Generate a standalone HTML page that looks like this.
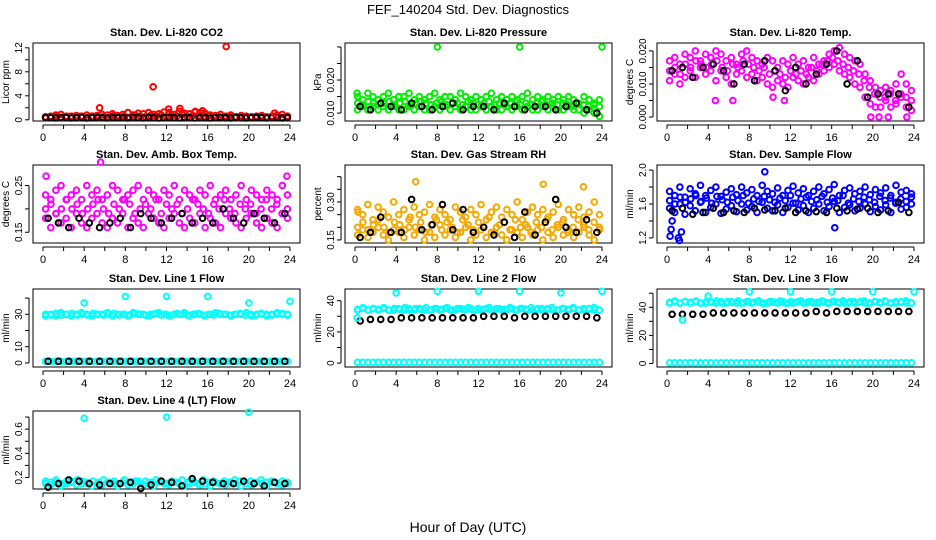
<!DOCTYPE html>
<html><head><meta charset="utf-8">
<style>
body{margin:0;background:#fff;}
svg{display:block;font-family:"Liberation Sans",sans-serif;}
</style></head>
<body>
<svg id="c" width="936" height="540">
<text x="468" y="14" text-anchor="middle" font-size="13">FEF_140204  Std. Dev. Diagnostics</text>
<text x="468" y="532" text-anchor="middle" font-size="14">Hour of Day (UTC)</text>
</svg>
<script>
// ---- data (std. dev. values) ----
const co2Red=[0.5,0.6,0.8,0.9,0.5,0.6,0.7,0.6,0.8,0.6,0.7,0.9,0.8,1.0,0.7,0.9,1.2,0.8,1.1,1.0,1.2,0.9,1.0,1.3,1.2,0.9,1.4,1.1,1.0,1.3,1.2,1.1,0.8,0.7,0.9,0.6,0.8,0.5,0.7,0.6,0.5,0.6,0.7,0.5,0.6,0.8,0.9,0.6];
const co2Mid=[0.3,0.4,0.5,0.3,0.6,0.4,0.3,0.5,0.4,0.6,0.3,0.5,0.4,0.7,0.5,0.6,0.4,0.8,0.6,0.5,0.7,0.6,0.8,0.5,0.7,0.6,0.9,0.5,0.7,0.6,0.5,0.7,0.4,0.5,0.3,0.6,0.4,0.3,0.5,0.4,0.3,0.5,0.4,0.3,0.5,0.4,0.3];
const co2Black=[0.4,0.35,0.3,0.4,0.35,0.3,0.35,0.4,0.3,0.35,0.4,0.35,0.3,0.4,0.35,0.35,0.3,0.4,0.35,0.3,0.4,0.35,0.3,0.35,0.4,0.35,0.3,0.4,0.35,0.3,0.35,0.4,0.3,0.35,0.4,0.35,0.3,0.4,0.35,0.3,0.35,0.4,0.35,0.3,0.4,0.35,0.3,0.4];
const co2OutHours=[5.5,10.7,17.8,12.2,13.3,14.8,15.5,22.5];
const co2OutVals=[2.0,5.5,12.2,1.8,1.9,1.4,1.5,1.1];

const presHi=[0.015,0.014,0.016,0.015,0.014,0.015,0.016,0.014,0.015,0.015,0.016,0.014,0.015,0.014,0.015,0.016,0.014,0.015,0.015,0.014,0.016,0.015,0.014,0.015,0.014,0.015,0.016,0.014,0.015,0.014,0.015,0.014,0.015,0.016,0.014,0.015,0.014,0.015,0.014,0.015,0.014,0.015,0.014,0.013,0.015,0.014,0.013,0.014];
const presMid=[0.013,0.0125,0.0135,0.013,0.0125,0.013,0.0135,0.0125,0.013,0.0135,0.0125,0.013,0.0135,0.013,0.0125,0.013,0.0135,0.0125,0.013,0.013,0.0125,0.0135,0.013,0.0125,0.013,0.0135,0.0125,0.013,0.0125,0.013,0.0135,0.0125,0.013,0.0125,0.013,0.0135,0.0125,0.013,0.0125,0.013,0.0125,0.012,0.013,0.0125,0.012,0.0125,0.012];
const presLo=[0.011,0.012,0.011,0.012,0.011,0.012,0.011,0.012,0.011,0.011,0.012,0.011,0.012,0.011,0.011,0.012,0.011,0.012,0.011,0.012,0.011,0.012,0.011,0.011,0.012,0.011,0.012,0.011,0.011,0.012,0.011,0.012,0.011,0.012,0.011,0.011,0.012,0.011,0.012,0.011,0.011,0.012,0.011,0.011,0.010,0.011,0.010,0.009];
const presBlack=[0.012,0.011,0.013,0.012,0.011,0.013,0.012,0.011,0.012,0.013,0.011,0.012,0.012,0.011,0.013,0.012,0.011,0.012,0.012,0.011,0.012,0.013,0.011,0.010];
const presOutHours=[0.2,8,16,24];
const presOutVals=[0.016,0.030,0.030,0.030];

const tempHi=[0.017,0.018,0.016,0.019,0.018,0.020,0.017,0.019,0.018,0.020,0.019,0.017,0.018,0.016,0.019,0.020,0.018,0.017,0.016,0.018,0.017,0.015,0.017,0.016,0.018,0.016,0.017,0.015,0.018,0.016,0.017,0.019,0.020,0.021,0.019,0.018,0.017,0.016,0.013,0.011,0.009,0.008,0.009,0.008,0.010,0.013,0.010,0.008];
const tempMid=[0.014,0.015,0.013,0.016,0.015,0.017,0.016,0.015,0.016,0.017,0.015,0.014,0.016,0.015,0.017,0.016,0.015,0.014,0.015,0.013,0.014,0.013,0.012,0.014,0.013,0.014,0.013,0.015,0.014,0.016,0.017,0.018,0.017,0.016,0.015,0.014,0.013,0.011,0.009,0.007,0.006,0.006,0.007,0.005,0.007,0.006,0.005];
const tempLo=[0.011,0.013,0.010,0.012,0.014,0.012,0.015,0.013,0.014,0.011,0.014,0.012,0.010,0.013,0.014,0.012,0.013,0.011,0.012,0.010,0.009,0.011,0.010,0.009,0.012,0.011,0.010,0.012,0.011,0.013,0.014,0.015,0.016,0.014,0.013,0.012,0.010,0.009,0.006,0.004,0.003,0.003,0.005,0.003,0.004,0.006,0.003,0.002];
const tempBlack=[0.014,0.015,0.012,0.015,0.016,0.014,0.010,0.016,0.011,0.017,0.014,0.008,0.015,0.010,0.013,0.016,0.020,0.010,0.017,0.006,0.007,0.007,0.007,0.003];
const tempOutHours=[4.7,6.4,10.3,11.4,19.8,20.6,21.5,23.3];
const tempOutVals=[0.005,0.005,0.006,0.005,0,0,0,0];

const ambHi=[0.23,0.22,0.24,0.25,0.22,0.23,0.24,0.22,0.25,0.23,0.24,0.22,0.23,0.25,0.24,0.22,0.23,0.24,0.25,0.22,0.24,0.23,0.22,0.24,0.23,0.25,0.22,0.24,0.23,0.22,0.24,0.23,0.25,0.22,0.23,0.24,0.22,0.23,0.25,0.22,0.24,0.23,0.22,0.24,0.23,0.22,0.25,0.23];
const ambMid=[0.20,0.21,0.19,0.20,0.22,0.20,0.21,0.19,0.20,0.21,0.22,0.20,0.19,0.21,0.20,0.22,0.21,0.19,0.20,0.21,0.20,0.22,0.19,0.21,0.20,0.21,0.19,0.20,0.22,0.21,0.20,0.19,0.21,0.20,0.22,0.20,0.19,0.21,0.20,0.21,0.19,0.20,0.22,0.20,0.21,0.19,0.20];
const ambLo=[0.18,0.16,0.19,0.17,0.18,0.16,0.19,0.17,0.16,0.18,0.19,0.17,0.16,0.18,0.17,0.19,0.16,0.18,0.17,0.16,0.19,0.18,0.17,0.16,0.18,0.19,0.17,0.16,0.18,0.17,0.19,0.16,0.18,0.17,0.16,0.19,0.18,0.17,0.16,0.18,0.19,0.17,0.16,0.18,0.17,0.16,0.19,0.18];
const ambBlack=[0.18,0.17,0.16,0.18,0.17,0.16,0.17,0.18,0.16,0.19,0.18,0.17,0.18,0.19,0.17,0.18,0.17,0.20,0.18,0.17,0.19,0.18,0.17,0.19];
const ambOutHours=[5.6,0.3,23.7];
const ambOutVals=[0.30,0.27,0.27];

const rhHi=[0.27,0.25,0.29,0.23,0.28,0.26,0.24,0.30,0.25,0.27,0.23,0.28,0.25,0.26,0.29,0.24,0.27,0.25,0.23,0.28,0.26,0.24,0.27,0.25,0.29,0.23,0.26,0.28,0.24,0.27,0.25,0.30,0.23,0.26,0.28,0.25,0.27,0.24,0.26,0.29,0.23,0.27,0.25,0.28,0.24,0.26,0.30,0.25];
const rhMid=[0.20,0.22,0.19,0.21,0.23,0.20,0.18,0.22,0.21,0.19,0.24,0.20,0.22,0.18,0.21,0.23,0.19,0.22,0.20,0.18,0.23,0.21,0.19,0.22,0.20,0.24,0.18,0.21,0.22,0.19,0.23,0.20,0.21,0.18,0.22,0.20,0.23,0.19,0.21,0.22,0.18,0.20,0.23,0.21,0.19,0.22,0.20];
const rhLo=[0.17,0.19,0.16,0.18,0.20,0.17,0.15,0.19,0.18,0.16,0.20,0.17,0.19,0.15,0.18,0.16,0.21,0.17,0.19,0.16,0.18,0.20,0.15,0.17,0.19,0.16,0.18,0.20,0.17,0.15,0.19,0.18,0.16,0.20,0.17,0.19,0.15,0.18,0.16,0.20,0.17,0.19,0.16,0.18,0.20,0.17,0.15,0.19];
const rhBlack=[0.16,0.18,0.24,0.18,0.18,0.31,0.19,0.21,0.29,0.19,0.27,0.18,0.20,0.17,0.22,0.16,0.26,0.17,0.22,0.31,0.20,0.18,0.23,0.18];
const rhOutHours=[5.9,18.3,22.2,0.3];
const rhOutVals=[0.38,0.37,0.36,0.26];

const flowHi=[1.75,1.70,1.80,1.68,1.78,1.72,1.82,1.70,1.76,1.80,1.69,1.74,1.78,1.71,1.80,1.73,1.77,1.70,1.82,1.75,1.72,1.79,1.70,1.76,1.81,1.73,1.78,1.70,1.75,1.80,1.72,1.77,1.83,1.70,1.76,1.79,1.72,1.75,1.80,1.71,1.77,1.73,1.79,1.70,1.82,1.74,1.76,1.72];
const flowMid=[1.64,1.60,1.68,1.62,1.66,1.70,1.63,1.67,1.61,1.69,1.65,1.62,1.68,1.64,1.70,1.61,1.66,1.63,1.69,1.65,1.62,1.67,1.64,1.70,1.61,1.66,1.68,1.63,1.65,1.69,1.62,1.67,1.64,1.70,1.61,1.66,1.63,1.68,1.65,1.62,1.69,1.64,1.67,1.61,1.66,1.63,1.68];
const flowLo=[1.55,1.50,1.60,1.48,1.58,1.52,1.62,1.50,1.56,1.60,1.49,1.54,1.58,1.51,1.60,1.53,1.57,1.50,1.62,1.55,1.52,1.59,1.50,1.56,1.61,1.53,1.58,1.50,1.55,1.60,1.52,1.57,1.63,1.50,1.56,1.59,1.52,1.55,1.60,1.51,1.57,1.53,1.59,1.50,1.62,1.54,1.56,1.60];
const flowBlack=[1.52,1.55,1.48,1.50,1.55,1.50,1.52,1.50,1.55,1.53,1.52,1.55,1.50,1.52,1.51,1.50,1.55,1.52,1.54,1.55,1.50,1.52,1.62,1.50];
const flowOutHours=[0.3,0.5,1.1,1.2,1.4,9.5,16.3,0.4];
const flowOutVals=[1.22,1.40,1.20,1.17,1.27,1.98,1.32,1.30];

const l1Cyan=[29,30,29,31,30,29,30,31,30,29,30,30,31,29,30,30,29,31,30,30,29,30,31,30,29,30,30,31,29,30,30,29,30,31,30,30,29,30,30,31,29,30,30,29,30,31,30,30];
const l1Mid=[30,29.5,30.5,29.5,30,30.5,29.5,30,29.5,30.5,30,29.5,30,30.5,29.5,30,29.5,30.5,30,29.5,30,30.5,29.5,30,29.5,30.5,30,29.5,30,30.5,29.5,30,29.5,30.5,30,29.5,30,30.5,29.5,30,29.5,30.5,30,29.5,30,30.5,29.5];
const l1Low=[1,1,1,1,1,1,1,1,1,1,1,1,1,1,1,1,1,1,1,1,1,1,1,1,1,1,1,1,1,1,1,1,1,1,1,1,1,1,1,1,1,1,1,1,1,1,1,1];
const l1Black=[1,1,1,1,1,1,1,1,1,1,1,1,1,1,1,1,1,1,1,1,1,1,1,1];
const l1OutHours=[4,8,12,16,20,24];
const l1OutVals=[37,41,41,41,37,38];

const l2Cyan=[34,35,34,35,34,35,34,34,35,34,35,34,35,34,34,35,34,35,34,34,35,34,35,34,34,35,34,35,34,34,35,34,35,34,34,35,34,35,34,34,35,34,35,34,34,35,34,34];
const l2Mid=[34.5,35.5,34,35,34.5,35.5,34,35,34.5,35.5,34,35,34.5,35.5,34,35,34.5,35.5,34,35,34.5,35.5,34,35,34.5,35.5,34,35,34.5,35.5,34,35,34.5,35.5,34,35,34.5,35.5,34,35,34.5,35.5,34,35,34.5,35.5,34];
const l2Low=[0.5,0.5,0.5,0.5,0.5,0.5,0.5,0.5,0.5,0.5,0.5,0.5,0.5,0.5,0.5,0.5,0.5,0.5,0.5,0.5,0.5,0.5,0.5,0.5,0.5,0.5,0.5,0.5,0.5,0.5,0.5,0.5,0.5,0.5,0.5,0.5,0.5,0.5,0.5,0.5,0.5,0.5,0.5,0.5,0.5,0.5,0.5,0.5];
const l2Black=[27,28,28,28,29,29,29,29,29,29,29,29,30,30,30,29,30,30,30,30,30,30,30,29];
const l2OutHours=[0.2,4,8,12,16,20,24];
const l2OutVals=[29,45,46,46,46,45,46];

const l3Cyan=[43,44,43,44,43,44,43,43,44,43,44,43,44,43,43,44,43,44,43,43,44,43,44,43,43,44,43,44,43,43,44,43,44,43,43,44,43,44,43,43,44,43,44,43,43,44,43,43];
const l3Mid=[43.5,44.5,43,44,43.5,44.5,43,44,43.5,44.5,43,44,43.5,44.5,43,44,43.5,44.5,43,44,43.5,44.5,43,44,43.5,44.5,43,44,43.5,44.5,43,44,43.5,44.5,43,44,43.5,44.5,43,44,43.5,44.5,43,44,43.5,44.5,43];
const l3Low=[0.5,0.5,0.5,0.5,0.5,0.5,0.5,0.5,0.5,0.5,0.5,0.5,0.5,0.5,0.5,0.5,0.5,0.5,0.5,0.5,0.5,0.5,0.5,0.5,0.5,0.5,0.5,0.5,0.5,0.5,0.5,0.5,0.5,0.5,0.5,0.5,0.5,0.5,0.5,0.5,0.5,0.5,0.5,0.5,0.5,0.5,0.5,0.5];
const l3Black=[35,35,35,35,36,36,36,36,36,36,36,36,36,36,37,36,37,37,37,37,37,37,37,37];
const l3OutHours=[1.5,4,8,12,16,20,24];
const l3OutVals=[31,48,51,51,51,51,51];

const l4Cyan=[0.15,0.14,0.16,0.13,0.15,0.17,0.14,0.15,0.16,0.13,0.15,0.14,0.16,0.15,0.13,0.16,0.14,0.15,0.17,0.14,0.15,0.13,0.16,0.15,0.14,0.16,0.15,0.13,0.15,0.16,0.14,0.15,0.13,0.16,0.15,0.14,0.16,0.15,0.13,0.15,0.14,0.16,0.15,0.13,0.16,0.15,0.14,0.15];
const l4Mid=[0.17,0.16,0.18,0.15,0.17,0.16,0.18,0.17,0.15,0.17,0.16,0.18,0.16,0.17,0.15,0.18,0.16,0.17,0.15,0.17,0.16,0.18,0.17,0.15,0.17,0.16,0.18,0.16,0.17,0.15,0.18,0.16,0.17,0.15,0.17,0.16,0.18,0.17,0.15,0.17,0.16,0.18,0.16,0.17,0.15,0.17,0.16];
const l4Black=[0.12,0.15,0.18,0.17,0.15,0.14,0.15,0.15,0.16,0.11,0.14,0.17,0.16,0.13,0.19,0.17,0.16,0.15,0.15,0.17,0.15,0.13,0.16,0.15];
const l4OutHours=[4,12,20];
const l4OutVals=[0.69,0.70,0.74];

const xTicks=[0,2,4,6,8,10,12,14,16,18,20,22,24];
const xLabels=["0","","4","","8","","12","","16","","20","","24"];

const RED="#ff0000",GRN="#00ee00",MAG="#ff00ff",ORG="#f5a800",BLU="#0000ff",CYN="#00ffff",BLK="#000000";
const panels=[
 {name:"co2",title:"Stan. Dev. Li-820 CO2",yl:"Licor ppm",col:0,row:0,ymin:-0.2,ymax:12.8,yt:[0,2,4,6,8,10,12],ylab:["0","","4","","8","","12"],
  s:[[co2Red,RED],[co2Mid,RED],[co2Black,BLK]],out:[co2OutHours,co2OutVals,RED]},
 {name:"pressure",title:"Stan. Dev. Li-820 Pressure",yl:"kPa",col:1,row:0,ymin:0.0076,ymax:0.0312,yt:[0.010,0.015,0.020,0.025,0.030],ylab:["0.010","","0.020","",""],
  s:[[presHi,GRN],[presMid,GRN],[presLo,GRN],[presBlack,BLK]],out:[presOutHours,presOutVals,GRN]},
 {name:"temp",title:"Stan. Dev. Li-820 Temp.",yl:"degrees C",col:2,row:0,ymin:-0.0012,ymax:0.0224,yt:[0,0.005,0.010,0.015,0.020],ylab:["0.000","","0.010","","0.020"],
  s:[[tempHi,MAG],[tempMid,MAG],[tempLo,MAG],[tempBlack,BLK]],out:[tempOutHours,tempOutVals,MAG]},
 {name:"ambbox",title:"Stan. Dev. Amb. Box Temp.",yl:"degrees C",col:0,row:1,ymin:0.127,ymax:0.294,yt:[0.15,0.20,0.25],ylab:["0.15","","0.25"],
  s:[[ambHi,MAG],[ambMid,MAG],[ambLo,MAG],[ambBlack,BLK]],out:[ambOutHours,ambOutVals,MAG]},
 {name:"rh",title:"Stan. Dev. Gas Stream RH",yl:"percent",col:1,row:1,ymin:0.138,ymax:0.446,yt:[0.15,0.20,0.25,0.30,0.35,0.40],ylab:["0.15","","","0.30","",""],
  s:[[rhHi,ORG],[rhMid,ORG],[rhLo,ORG],[rhBlack,BLK]],out:[rhOutHours,rhOutVals,ORG]},
 {name:"sampleflow",title:"Stan. Dev. Sample Flow",yl:"ml/min",col:2,row:1,ymin:1.14,ymax:2.06,yt:[1.2,1.4,1.6,1.8,2.0],ylab:["1.2","","1.6","","2.0"],
  s:[[flowHi,BLU],[flowMid,BLU],[flowLo,BLU],[flowBlack,BLK]],out:[flowOutHours,flowOutVals,BLU]},
 {name:"line1",title:"Stan. Dev. Line 1 Flow",yl:"ml/min",col:0,row:2,ymin:-2.5,ymax:45.6,yt:[0,10,20,30,40],ylab:["0","10","","30",""],
  s:[[l1Cyan,CYN],[l1Mid,CYN],[l1Low,CYN],[l1Black,BLK]],out:[l1OutHours,l1OutVals,CYN]},
 {name:"line2",title:"Stan. Dev. Line 2 Flow",yl:"ml/min",col:1,row:2,ymin:-2.5,ymax:47.5,yt:[0,10,20,30,40],ylab:["0","","20","","40"],
  s:[[l2Cyan,CYN],[l2Mid,CYN],[l2Low,CYN],[l2Black,BLK]],out:[l2OutHours,l2OutVals,CYN]},
 {name:"line3",title:"Stan. Dev. Line 3 Flow",yl:"ml/min",col:2,row:2,ymin:-2.5,ymax:53,yt:[0,10,20,30,40,50],ylab:["0","","20","","40",""],
  s:[[l3Cyan,CYN],[l3Mid,CYN],[l3Low,CYN],[l3Black,BLK]],out:[l3OutHours,l3OutVals,CYN]},
 {name:"line4",title:"Stan. Dev. Line 4 (LT) Flow",yl:"ml/min",col:0,row:3,ymin:0.105,ymax:0.75,yt:[0.2,0.3,0.4,0.5,0.6,0.7],ylab:["0.2","","0.4","","0.6",""],
  s:[[l4Cyan,CYN],[l4Mid,CYN],[l4Black,BLK]],out:[l4OutHours,l4OutVals,CYN]}
];

const NS="http://www.w3.org/2000/svg";
const svg=document.getElementById('c');
const colL=[33,345,657],rowT=[43,165,289,411],W=267,H=78;
function mk(tag,attrs,parent){const e=document.createElementNS(NS,tag);for(const k in attrs)e.setAttribute(k,attrs[k]);(parent||svg).appendChild(e);return e;}

panels.forEach(p=>{
  const L=colL[p.col],T=rowT[p.row];
  const g=mk('g',{});
  
  
  const xs=h=>L+10+h*(247/24);
  const ys=v=>T+H-(v-p.ymin)/(p.ymax-p.ymin)*H;
  const box=mk('rect',{x:L,y:T,width:W,height:H,fill:'none',stroke:'#000','stroke-width':1},g);
  
  
  const t=mk('text',{x:L+W/2,y:T-7,'text-anchor':'middle','font-size':11,'font-weight':'bold'},g);
  t.textContent=p.title;
  
  
  const yl=mk('text',{transform:`translate(${L-24},${T+H/2}) rotate(-90)`,'text-anchor':'middle','font-size':10},g);
  yl.textContent=p.yl;
  
  
  mk('line',{x1:xs(0),x2:xs(24),y1:T+H+4,y2:T+H+4,stroke:'#000'},g);
  xTicks.forEach((h,i)=>{
    mk('line',{x1:xs(h),x2:xs(h),y1:T+H+4,y2:T+H+8,stroke:'#000'},g);
    if(xLabels[i]){const tx=mk('text',{x:xs(h),y:T+H+20,'text-anchor':'middle','font-size':11},g);tx.textContent=xLabels[i];
      
      }
  });
  mk('line',{x1:L-4,x2:L-4,y1:ys(p.yt[0]),y2:ys(p.yt[p.yt.length-1]),stroke:'#000'},g);
  p.yt.forEach((v,i)=>{
    mk('line',{x1:L-8,x2:L-4,y1:ys(v),y2:ys(v),stroke:'#000'},g);
    if(p.ylab[i]){const ty=mk('text',{transform:`translate(${L-11},${ys(v)}) rotate(-90)`,'text-anchor':'middle','font-size':10},g);ty.textContent=p.ylab[i];
      
      }
  });
  p.s.forEach(([arr,color])=>{
    const n=arr.length;
    arr.forEach((v,i)=>{
      const h=(i+0.5)*24/n;
      const c=mk('circle',{cx:xs(h),cy:ys(v),r:2.8,fill:'none',stroke:color,'stroke-width':2},g);
      
      
    });
  });
  const [oh,ov,oc]=p.out;
  oh.forEach((h,i)=>{
    const c=mk('circle',{cx:xs(h),cy:ys(ov[i]),r:2.8,fill:'none',stroke:oc,'stroke-width':2},g);
    
    
  });
});
</script>
</body></html>
